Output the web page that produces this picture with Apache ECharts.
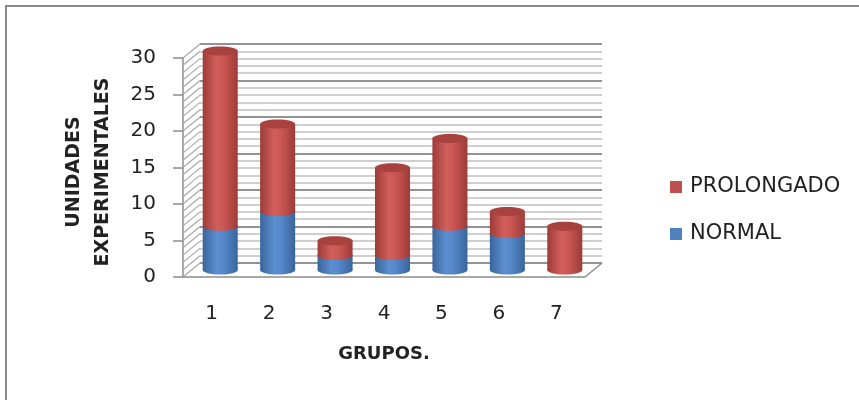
<!DOCTYPE html>
<html>
<head>
<meta charset="utf-8">
<script src="https://cdn.jsdelivr.net/npm/echarts@6/dist/echarts.min.js"></script>
<style>
  html, body { margin: 0; padding: 0; background: #ffffff; }
  #chart { width: 859px; height: 400px; }
</style>
</head>
<body>
<div id="chart"></div>
<script>
// Groups on the horizontal axis
var categories = ['1', '2', '3', '4', '5', '6', '7'];
// Experimental units per group, stacked: NORMAL below, PROLONGADO on top
var normal = [6, 8, 2, 2, 6, 5, 0];
var prolongado = [24, 12, 2, 12, 12, 3, 6];
// Value axis range
var yMin = 0, yMax = 30, yStep = 5;

var FONT = '"DejaVu Sans", "Liberation Sans", sans-serif';
var TEXT = '#222222';

// 3-D look: the back wall sits DEPTH_X right / DEPTH_Y up from the front plane
var DEPTH_X = 17, DEPTH_Y = -14;

var chart = echarts.init(document.getElementById('chart'), null, { renderer: 'canvas' });

// Stacked segments [category, from, to]
var normalData = categories.map(function (c, i) { return [i, 0, normal[i]]; });
var prolongData = categories.map(function (c, i) { return [i, normal[i], normal[i] + prolongado[i]]; });

// Minor values for the hatched side wall
var wallValues = [];
for (var v = yMin; v <= yMax; v += 1) wallValues.push([0, v]);

function cylinder(colors) {
  return function (params, api) {
    var cat = api.value(0), lo = api.value(1), hi = api.value(2);
    if (!(hi > lo)) return;
    var p0 = api.coord([cat, lo]);
    var p1 = api.coord([cat, hi]);
    var band = api.size([1, 0])[0];
    var w = band * 0.61, rx = w / 2, ry = 4.5;
    var cx = p0[0] + DEPTH_X / 2;
    var yb = p0[1] + DEPTH_Y / 2;
    var yt = p1[1] + DEPTH_Y / 2;
    var body = new echarts.graphic.LinearGradient(0, 0, 1, 0, [
      { offset: 0, color: colors.edge },
      { offset: 0.4, color: colors.light },
      { offset: 0.6, color: colors.mid },
      { offset: 1, color: colors.edge }
    ]);
    return {
      type: 'group',
      children: [
        { type: 'ellipse', shape: { cx: cx, cy: yb, rx: rx, ry: ry }, style: { fill: body } },
        { type: 'rect', shape: { x: cx - rx, y: yt, width: w, height: yb - yt }, style: { fill: body } },
        { type: 'ellipse', shape: { cx: cx, cy: yt, rx: rx, ry: ry }, style: { fill: colors.top } }
      ]
    };
  };
}

var option = {
  backgroundColor: '#ffffff',
  animation: false,
  textStyle: { fontFamily: FONT },
  graphic: [
    {
      type: 'rect', silent: true, z: -10,
      shape: { x: 6, y: 6, width: 3000, height: 3000 },
      style: { fill: 'none', stroke: '#8a8a8a', lineWidth: 2 }
    },
    {
      type: 'text', silent: true,
      x: 89, y: 172, rotation: Math.PI / 2,
      style: {
        text: 'UNIDADES\nEXPERIMENTALES',
        fontFamily: FONT, fontSize: 19, fontWeight: 'bold',
        lineHeight: 29, fill: TEXT,
        align: 'center', verticalAlign: 'middle',
        textAlign: 'center', textVerticalAlign: 'middle'
      }
    }
  ],
  legend: {
    orient: 'vertical',
    left: 665, top: 170,
    itemWidth: 12, itemHeight: 12, itemGap: 23,
    icon: 'rect',
    data: ['PROLONGADO', 'NORMAL'],
    textStyle: { fontFamily: FONT, fontSize: 21, lineHeight: 24, color: TEXT, padding: [0, 0, 0, 3] },
    selectedMode: false
  },
  grid: [
    { left: 183, top: 58, width: 402, height: 219 },
    { left: 183 + DEPTH_X, top: 58 + DEPTH_Y, width: 402, height: 219 }
  ],
  xAxis: [
    {
      gridIndex: 0, type: 'category', data: categories,
      axisLine: { show: true, lineStyle: { color: '#8c8c8c', width: 1.5 } },
      axisTick: { show: false },
      axisLabel: { margin: 27, fontFamily: FONT, fontSize: 20, color: TEXT },
      name: 'GRUPOS.', nameLocation: 'middle', nameGap: 68,
      nameTextStyle: { fontFamily: FONT, fontSize: 18, fontWeight: 'bold', color: TEXT }
    },
    { gridIndex: 1, type: 'category', data: categories, show: false }
  ],
  yAxis: [
    {
      gridIndex: 0, type: 'value', min: yMin, max: yMax, interval: yStep,
      axisLine: { show: true, lineStyle: { color: '#8c8c8c', width: 1.5 } },
      axisTick: { show: true, length: 10, lineStyle: { color: '#8c8c8c', width: 1.5 } },
      axisLabel: { margin: 27, fontFamily: FONT, fontSize: 20, color: TEXT },
      splitLine: { show: false }
    },
    {
      gridIndex: 1, type: 'value', min: yMin, max: yMax, interval: yStep,
      axisLine: { show: false }, axisTick: { show: false }, axisLabel: { show: false },
      splitLine: { show: true, lineStyle: { color: '#939393', width: 2 } },
      minorTick: { show: false, splitNumber: 5 },
      minorSplitLine: { show: true, lineStyle: { color: '#cfcfcf', width: 2 } }
    }
  ],
  series: [
    {
      name: 'wall', type: 'custom', xAxisIndex: 0, yAxisIndex: 0,
      silent: true, clip: false, z: 1,
      data: wallValues, encode: { x: 0, y: 1 },
      renderItem: function (params, api) {
        var v = api.value(1);
        var x0 = params.coordSys.x;
        var y = api.coord([0, v])[1];
        var children = [{
          type: 'line',
          shape: { x1: x0, y1: y, x2: x0 + DEPTH_X, y2: y + DEPTH_Y },
          style: { stroke: '#a8a8a8', lineWidth: 1.2 }
        }];
        if (v === 0) {
          var x1 = params.coordSys.x + params.coordSys.width;
          children.push({
            type: 'line',
            shape: { x1: x1, y1: y, x2: x1 + DEPTH_X, y2: y + DEPTH_Y },
            style: { stroke: '#8c8c8c', lineWidth: 1.5 }
          });
        }
        return { type: 'group', children: children };
      }
    },
    {
      name: 'NORMAL', type: 'custom', xAxisIndex: 0, yAxisIndex: 0,
      clip: false, z: 3,
      itemStyle: { color: '#4F81BD' },
      data: normalData, encode: { x: 0, y: [1, 2] },
      renderItem: cylinder({ edge: '#3a659b', light: '#5b8fd0', mid: '#5488ca', top: '#4677b3' })
    },
    {
      name: 'PROLONGADO', type: 'custom', xAxisIndex: 0, yAxisIndex: 0,
      clip: false, z: 4,
      itemStyle: { color: '#C0504D' },
      data: prolongData, encode: { x: 0, y: [1, 2] },
      renderItem: cylinder({ edge: '#9c3b38', light: '#d25f5c', mid: '#cb5754', top: '#a8423f' })
    }
  ]
};

chart.setOption(option);
</script>
</body>
</html>
